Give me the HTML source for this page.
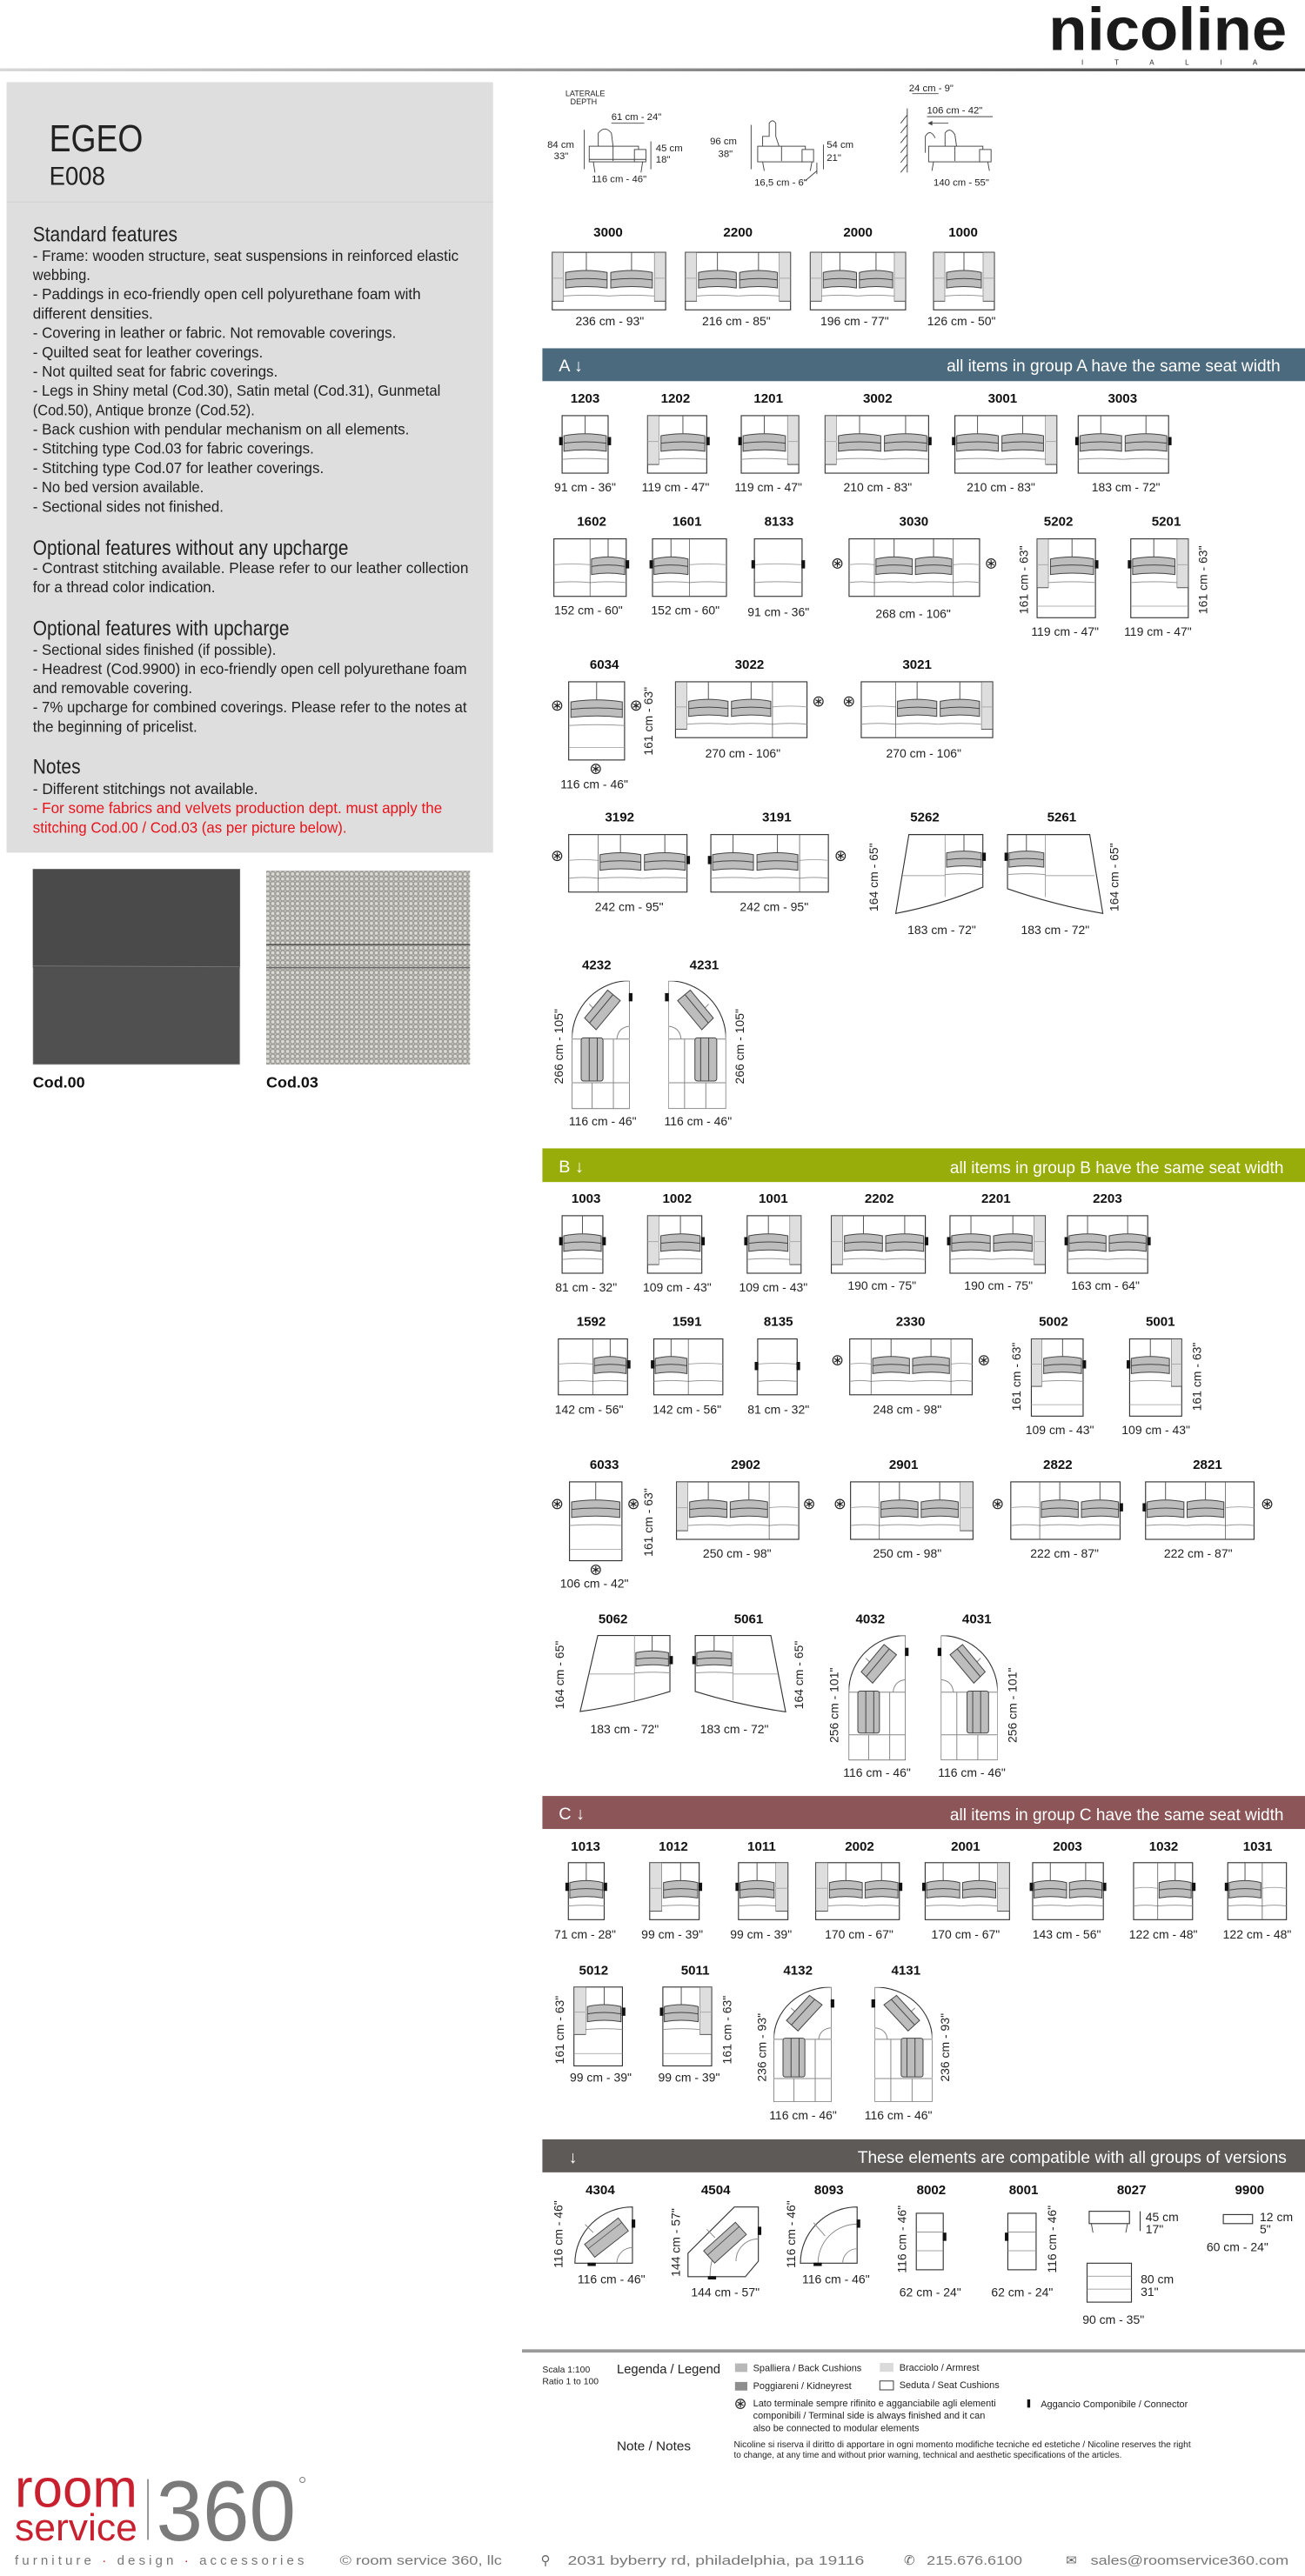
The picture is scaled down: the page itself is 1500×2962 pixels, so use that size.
<!DOCTYPE html>
<html><head><meta charset="utf-8">
<style>
html,body{margin:0;padding:0;background:#fff;}
svg{display:block;}
.lb{font-family:"Liberation Sans",sans-serif;font-weight:bold;font-size:8px;fill:#111;text-anchor:middle;}
.dm{font-family:"Liberation Sans",sans-serif;font-size:7.4px;fill:#222;text-anchor:middle;}
.nr{font-family:"Liberation Sans Narrow","Liberation Sans",sans-serif;fill:#222;}
.o{fill:#fff;stroke:#333;stroke-width:0.6;}
.k{fill:#111;}
.bt{font-family:"Liberation Sans",sans-serif;font-size:10.5px;fill:#fff;}
</style></head><body>
<svg width="1500" height="2962" viewBox="0 0 794 1568" preserveAspectRatio="none" xmlns="http://www.w3.org/2000/svg">
<defs>
<linearGradient id="hg" x1="0" x2="1" y1="0" y2="0"><stop offset="0" stop-color="#d8d8d8"/><stop offset="1" stop-color="#444"/></linearGradient>
<symbol id="seat" viewBox="0 0 100 100" preserveAspectRatio="none">
<line x1="50" y1="0" x2="50" y2="31" stroke="#555" stroke-width="1" vector-effect="non-scaling-stroke"/>
<path d="M4,35 Q50,28 96,35 V62 Q50,57 4,62 Z" fill="#bdbdbd" stroke="#444" stroke-width="1" vector-effect="non-scaling-stroke"/>
<path d="M4,48 Q50,43 96,48" fill="none" stroke="#444" stroke-width="1" vector-effect="non-scaling-stroke"/>
<path d="M0,76 Q50,73 100,76" fill="none" stroke="#999" stroke-width="1" vector-effect="non-scaling-stroke"/>
</symbol>
<symbol id="emp" viewBox="0 0 100 100" preserveAspectRatio="none">
<path d="M0,45 Q50,42 100,45" fill="none" stroke="#aaa" stroke-width="1" vector-effect="non-scaling-stroke"/>
<path d="M0,76 Q50,73 100,76" fill="none" stroke="#999" stroke-width="1" vector-effect="non-scaling-stroke"/>
</symbol>
<symbol id="arm" viewBox="0 0 100 100" preserveAspectRatio="none">
<rect x="0" y="0" width="100" height="85" fill="#dedede" stroke="#555" stroke-width="1" vector-effect="non-scaling-stroke"/>
<line x1="0" y1="45" x2="100" y2="45" stroke="#aaa" stroke-width="1" vector-effect="non-scaling-stroke"/>
</symbol>
<symbol id="cor" viewBox="0 0 100 220" preserveAspectRatio="none">
<path d="M0,220 V100 A100,100 0 0 1 100,0 V220 Z" fill="#fff" stroke="#333" stroke-width="1.1" vector-effect="non-scaling-stroke"/>
<path d="M0,100 H100 M0,175 H100 M35,175 V220 M72,100 V220 M78,100 Q80,80 100,78 M30,40 L48,58" fill="none" stroke="#888" stroke-width="1" vector-effect="non-scaling-stroke"/>
<polygon points="22,64 62,16 84,34 42,84" fill="#bdbdbd" stroke="#444" stroke-width="1" vector-effect="non-scaling-stroke"/>
<line x1="31" y1="72" x2="71" y2="24" stroke="#444" stroke-width="1" vector-effect="non-scaling-stroke"/>
<rect x="16" y="98" width="38" height="74" rx="4" fill="#bdbdbd" stroke="#444" stroke-width="1" vector-effect="non-scaling-stroke"/>
<line x1="30" y1="98" x2="30" y2="172" stroke="#444" stroke-width="1" vector-effect="non-scaling-stroke"/>
<line x1="44" y1="98" x2="44" y2="172" stroke="#444" stroke-width="1" vector-effect="non-scaling-stroke"/>
</symbol>
<symbol id="corR" viewBox="0 0 100 220" preserveAspectRatio="none"><g transform="translate(100,0) scale(-1,1)"><use href="#cor" x="0" y="0" width="100" height="220"/></g></symbol>
<symbol id="ast" viewBox="-5 -5 10 10"><circle r="4" fill="#fff" stroke="#222" stroke-width="0.9"/><path d="M0,-3V3M-2.6,-1.5L2.6,1.5M-2.6,1.5L2.6,-1.5" stroke="#222" stroke-width="0.9"/></symbol>
<pattern id="weave" width="3" height="3" patternUnits="userSpaceOnUse"><rect width="3" height="3" fill="#9c9a95"/><circle cx="1" cy="1" r="1" fill="#dcdad4"/><circle cx="2.5" cy="2.5" r="0.6" fill="#c4c2bc"/></pattern>
</defs>

<!-- HEADER -->
<text x="638" y="30.4" font-family="Liberation Sans,sans-serif" font-weight="bold" font-size="37" fill="#1a1a1a" textLength="145" lengthAdjust="spacingAndGlyphs">nicoline</text>
<text x="658" y="39.5" font-family="Liberation Sans,sans-serif" font-size="4.2" fill="#222" textLength="107" lengthAdjust="spacing">I T A L I A</text>
<rect x="0" y="41.6" width="794" height="1.8" fill="url(#hg)"/>

<!-- LEFT PANEL -->
<rect x="4" y="50" width="296" height="469" fill="#dedede"/>
<line x1="4" y1="123" x2="300" y2="123" stroke="#d2d2d2" stroke-width="0.6"/>
<text class="nr" x="30" y="92" font-size="23" textLength="57" lengthAdjust="spacingAndGlyphs">EGEO</text>
<text class="nr" x="30" y="112.5" font-size="15.5" textLength="34" lengthAdjust="spacingAndGlyphs">E008</text>
<g class="nr" font-size="9.2">
<text x="20" y="147" font-size="12.5" textLength="88" lengthAdjust="spacingAndGlyphs">Standard features</text>
<text x="20" y="158.7" textLength="259" lengthAdjust="spacingAndGlyphs">- Frame: wooden structure, seat suspensions in reinforced elastic</text>
<text x="20" y="170.5" textLength="35" lengthAdjust="spacingAndGlyphs">webbing.</text>
<text x="20" y="182.2" textLength="236" lengthAdjust="spacingAndGlyphs">- Paddings in eco-friendly open cell polyurethane foam with</text>
<text x="20" y="194" textLength="73" lengthAdjust="spacingAndGlyphs">different densities.</text>
<text x="20" y="205.7" textLength="221" lengthAdjust="spacingAndGlyphs">- Covering in leather or fabric. Not removable coverings.</text>
<text x="20" y="217.5" textLength="140" lengthAdjust="spacingAndGlyphs">- Quilted seat for leather coverings.</text>
<text x="20" y="229.2" textLength="149" lengthAdjust="spacingAndGlyphs">- Not quilted seat for fabric coverings.</text>
<text x="20" y="241" textLength="248" lengthAdjust="spacingAndGlyphs">- Legs in Shiny metal (Cod.30), Satin metal (Cod.31), Gunmetal</text>
<text x="20" y="252.7" textLength="135" lengthAdjust="spacingAndGlyphs">(Cod.50), Antique bronze (Cod.52).</text>
<text x="20" y="264.5" textLength="229" lengthAdjust="spacingAndGlyphs">- Back cushion with pendular mechanism on all elements.</text>
<text x="20" y="276.2" textLength="171" lengthAdjust="spacingAndGlyphs">- Stitching type Cod.03 for fabric coverings.</text>
<text x="20" y="288" textLength="177" lengthAdjust="spacingAndGlyphs">- Stitching type Cod.07 for leather coverings.</text>
<text x="20" y="299.7" textLength="104" lengthAdjust="spacingAndGlyphs">- No bed version available.</text>
<text x="20" y="311.5" textLength="116" lengthAdjust="spacingAndGlyphs">- Sectional sides not finished.</text>
<text x="20" y="337.7" font-size="12.5" textLength="192" lengthAdjust="spacingAndGlyphs">Optional features without any upcharge</text>
<text x="20" y="348.8" textLength="265" lengthAdjust="spacingAndGlyphs">- Contrast stitching available. Please refer to our leather collection</text>
<text x="20" y="360.6" textLength="111" lengthAdjust="spacingAndGlyphs">for a thread color indication.</text>
<text x="20" y="386.7" font-size="12.5" textLength="156" lengthAdjust="spacingAndGlyphs">Optional features with upcharge</text>
<text x="20" y="398.5" textLength="148" lengthAdjust="spacingAndGlyphs">- Sectional sides finished (if possible).</text>
<text x="20" y="410.3" textLength="264" lengthAdjust="spacingAndGlyphs">- Headrest (Cod.9900) in eco-friendly open cell polyurethane foam</text>
<text x="20" y="422" textLength="97" lengthAdjust="spacingAndGlyphs">and removable covering.</text>
<text x="20" y="433.6" textLength="264" lengthAdjust="spacingAndGlyphs">- 7% upcharge for combined coverings. Please refer to the notes at</text>
<text x="20" y="445.4" textLength="100" lengthAdjust="spacingAndGlyphs">the beginning of pricelist.</text>
<text x="20" y="471" font-size="12.5" textLength="29" lengthAdjust="spacingAndGlyphs">Notes</text>
<text x="20" y="483.3" textLength="137" lengthAdjust="spacingAndGlyphs">- Different stitchings not available.</text>
<text x="20" y="495" fill="#e8141c" textLength="249" lengthAdjust="spacingAndGlyphs">- For some fabrics and velvets production dept. must apply the</text>
<text x="20" y="506.9" fill="#e8141c" textLength="191" lengthAdjust="spacingAndGlyphs">stitching Cod.00 / Cod.03 (as per picture below).</text>
</g>
<!-- swatches -->
<rect x="20" y="529" width="126" height="119" fill="#505050" stroke="#ccc" stroke-width="0.4"/>
<rect x="20" y="529" width="126" height="60" fill="#4a4a4a"/>
<line x1="20" y1="588" x2="146" y2="588.5" stroke="#777" stroke-width="0.5"/>
<rect x="162" y="530" width="124" height="118" fill="url(#weave)"/>
<line x1="162" y1="575" x2="286" y2="575" stroke="#555" stroke-width="0.8"/>
<line x1="162" y1="589" x2="286" y2="589" stroke="#666" stroke-width="0.8"/>
<text x="20" y="662" font-family="Liberation Sans,sans-serif" font-weight="bold" font-size="9.5" fill="#111">Cod.00</text>
<text x="162" y="662" font-family="Liberation Sans,sans-serif" font-weight="bold" font-size="9.5" fill="#111">Cod.03</text>

<!-- TOP DIMENSION ICONS -->
<g font-family="Liberation Sans,sans-serif" font-size="6" fill="#222">
<text x="344" y="58.5" font-size="4.8">LATERALE</text><text x="347" y="63.5" font-size="4.8">DEPTH</text>
<text x="372" y="73">61 cm - 24"</text>
<text x="333" y="90">84 cm</text><text x="337" y="97">33"</text>
<text x="399" y="92">45 cm</text><text x="399" y="99">18"</text>
<text x="360" y="111">116 cm - 46"</text>
<text x="432" y="88">96 cm</text><text x="437" y="95.5">38"</text>
<text x="503" y="90">54 cm</text><text x="503" y="98">21"</text>
<text x="459" y="113">16,5 cm - 6"</text>
<text x="553" y="55.5">24 cm - 9"</text>
<text x="564" y="69">106 cm - 42"</text>
<text x="568" y="113">140 cm - 55"</text>
</g>
<g fill="none" stroke="#444" stroke-width="0.5">
<line x1="372" y1="75" x2="392" y2="75"/><line x1="555" y1="57" x2="571" y2="57"/><line x1="564" y1="71" x2="604" y2="71"/>
<line x1="355.5" y1="79" x2="355.5" y2="103"/><line x1="396" y1="86" x2="396" y2="103"/>
<path d="M364,89 V81 Q368,76 372,81 L373,89"/><rect x="358.5" y="89" width="30" height="9.5" fill="#fff"/><line x1="373" y1="89" x2="373" y2="98"/><rect x="386" y="91" width="7" height="7.5" fill="#fff"/>
<path d="M361,98.5 L362,105 M391,98.5 L390,105 M358.5,97 H393"/>
<line x1="457" y1="76" x2="457" y2="103"/><line x1="501" y1="88" x2="501" y2="103"/>
<path d="M464,89 V83 H468 V75 Q470,72 472,75 V83 L474,89"/><rect x="461" y="89" width="29" height="9.5" fill="#fff"/><line x1="475.5" y1="89" x2="475.5" y2="98"/><rect x="488" y="91" width="7" height="7.5" fill="#fff"/>
<path d="M464,98.5 L465,104 M494,98.5 L493,104 M497,99 V106 M490,110 L497,104"/>
<path d="M552,66 V105 M552,70 l-4,5 M552,76 l-4,5 M552,82 l-4,5 M552,88 l-4,5 M552,94 l-4,5 M552,100 l-4,5"/>
<line x1="577" y1="75" x2="565" y2="75"/><path d="M565,75 l2,-1 v2 z" fill="#444"/>
<path d="M563,93 V83 Q566,78 569,84 M575,89 V81 Q578,77 581,82 L582,89"/><rect x="565" y="89" width="33" height="9.5" fill="#fff"/><line x1="581" y1="89" x2="581" y2="98"/><rect x="596" y="91" width="7" height="7.5" fill="#fff"/>
<path d="M568,98.5 L567,104 M601,98.5 L602,104"/>
</g>

<!-- BASE ROW -->
<g class="lb"><text x="370" y="144">3000</text><text x="449" y="144">2200</text><text x="522" y="144">2000</text><text x="586" y="144">1000</text></g>
<rect class="o" x="336" y="153.6" width="69" height="35"/><use href="#arm" x="336" y="153.6" width="7" height="35"/><use href="#seat" x="343" y="153.6" width="27.5" height="35"/><use href="#seat" x="370.5" y="153.6" width="27.5" height="35"/><use href="#arm" x="398" y="153.6" width="7" height="35"/>
<rect class="o" x="417" y="153.6" width="64" height="35"/><use href="#arm" x="417" y="153.6" width="7" height="35"/><use href="#seat" x="424" y="153.6" width="25" height="35"/><use href="#seat" x="449" y="153.6" width="25" height="35"/><use href="#arm" x="474" y="153.6" width="7" height="35"/>
<rect class="o" x="493" y="153.6" width="58" height="35"/><use href="#arm" x="493" y="153.6" width="7" height="35"/><use href="#seat" x="500" y="153.6" width="22" height="35"/><use href="#seat" x="522" y="153.6" width="22" height="35"/><use href="#arm" x="544" y="153.6" width="7" height="35"/>
<rect class="o" x="568" y="153.6" width="37" height="35"/><use href="#arm" x="568" y="153.6" width="7" height="35"/><use href="#seat" x="575" y="153.6" width="23" height="35"/><use href="#arm" x="598" y="153.6" width="7" height="35"/>
<g class="dm"><text x="371" y="198">236 cm - 93"</text><text x="448" y="198">216 cm - 85"</text><text x="520" y="198">196 cm - 77"</text><text x="585" y="198">126 cm - 50"</text></g>

<!-- GROUP A -->
<rect x="330" y="212" width="464" height="20" fill="#4b6a7e"/>
<text class="bt" x="340" y="226">A ↓</text>
<text class="bt" x="576" y="226" textLength="203" lengthAdjust="spacingAndGlyphs">all items in group A have the same seat width</text>

<g class="lb"><text x="356" y="245">1203</text><text x="411" y="245">1202</text><text x="467.5" y="245">1201</text><text x="534" y="245">3002</text><text x="610" y="245">3001</text><text x="683" y="245">3003</text></g>
<rect class="o" x="342" y="253" width="28" height="35"/><use href="#seat" x="342" y="253" width="28" height="35"/><rect class="k" x="340.2" y="266" width="2.2" height="5"/><rect class="k" x="369.6" y="266" width="2.2" height="5"/>
<rect class="o" x="394" y="253" width="36" height="35"/><use href="#arm" x="394" y="253" width="7" height="35"/><use href="#seat" x="401" y="253" width="29" height="35"/><rect class="k" x="429.6" y="266" width="2.2" height="5"/>
<rect class="o" x="451" y="253" width="35" height="35"/><use href="#seat" x="451" y="253" width="28" height="35"/><use href="#arm" x="479" y="253" width="7" height="35"/><rect class="k" x="449.2" y="266" width="2.2" height="5"/>
<rect class="o" x="502" y="253" width="63" height="35"/><use href="#arm" x="502" y="253" width="7" height="35"/><use href="#seat" x="509" y="253" width="28" height="35"/><use href="#seat" x="537" y="253" width="28" height="35"/><rect class="k" x="564.6" y="266" width="2.2" height="5"/>
<rect class="o" x="581" y="253" width="62" height="35"/><use href="#seat" x="581" y="253" width="27.5" height="35"/><use href="#seat" x="608.5" y="253" width="27.5" height="35"/><use href="#arm" x="636" y="253" width="7" height="35"/><rect class="k" x="579.2" y="266" width="2.2" height="5"/>
<rect class="o" x="656" y="253" width="55" height="35"/><use href="#seat" x="656" y="253" width="27.5" height="35"/><use href="#seat" x="683.5" y="253" width="27.5" height="35"/><rect class="k" x="654.2" y="266" width="2.2" height="5"/><rect class="k" x="710.6" y="266" width="2.2" height="5"/>
<g class="dm"><text x="356" y="299">91 cm - 36"</text><text x="411" y="299">119 cm - 47"</text><text x="467.5" y="299">119 cm - 47"</text><text x="534" y="299">210 cm - 83"</text><text x="609" y="299">210 cm - 83"</text><text x="685" y="299">183 cm - 72"</text></g>

<g class="lb"><text x="360" y="320">1602</text><text x="418" y="320">1601</text><text x="474" y="320">8133</text><text x="556" y="320">3030</text><text x="644" y="320">5202</text><text x="709.6" y="320">5201</text></g>
<rect class="o" x="337" y="328" width="44" height="35"/><use href="#emp" x="337" y="328" width="22" height="35"/><use href="#seat" x="359" y="328" width="22" height="35"/><line x1="359" y1="328" x2="359" y2="363" stroke="#555" stroke-width="0.4"/><rect class="k" x="380.6" y="341" width="2.2" height="5"/>
<rect class="o" x="397" y="328" width="45" height="35"/><use href="#seat" x="397" y="328" width="22.5" height="35"/><use href="#emp" x="419.5" y="328" width="22.5" height="35"/><line x1="419.5" y1="328" x2="419.5" y2="363" stroke="#555" stroke-width="0.4"/><rect class="k" x="395.2" y="341" width="2.2" height="5"/>
<rect class="o" x="459" y="328" width="29" height="35"/><use href="#emp" x="459" y="328" width="29" height="35"/><rect class="k" x="457.2" y="341" width="2.2" height="5"/><rect class="k" x="487.6" y="341" width="2.2" height="5"/>
<rect class="o" x="516.6" y="328" width="79.4" height="35"/><use href="#emp" x="516.6" y="328" width="15.4" height="35"/><use href="#seat" x="532" y="328" width="24" height="35"/><use href="#seat" x="556" y="328" width="24" height="35"/><use href="#emp" x="580" y="328" width="16" height="35"/><line x1="532" y1="328" x2="532" y2="363" stroke="#555" stroke-width="0.4"/><line x1="580" y1="328" x2="580" y2="363" stroke="#555" stroke-width="0.4"/>
<use href="#ast" x="506" y="339.5" width="7" height="7"/><use href="#ast" x="599.5" y="339.5" width="7" height="7"/>
<rect class="o" x="631" y="328" width="35.5" height="48"/><use href="#arm" x="631" y="328" width="7" height="35"/><use href="#seat" x="638" y="328" width="28.5" height="35"/><line x1="631" y1="369" x2="666.5" y2="369" stroke="#999" stroke-width="0.4"/><rect class="k" x="666.1" y="341" width="2.2" height="5"/>
<rect class="o" x="688" y="328" width="35" height="48"/><use href="#seat" x="688" y="328" width="28" height="35"/><use href="#arm" x="716" y="328" width="7" height="35"/><line x1="688" y1="369" x2="723" y2="369" stroke="#999" stroke-width="0.4"/><rect class="k" x="686.2" y="341" width="2.2" height="5"/>
<g class="dm"><text x="358" y="374">152 cm - 60"</text><text x="417" y="374">152 cm - 60"</text><text x="473.6" y="375">91 cm - 36"</text><text x="555.6" y="376">268 cm - 106"</text><text x="648" y="387">119 cm - 47"</text><text x="704.5" y="387">119 cm - 47"</text>
<text transform="translate(625.5,353) rotate(-90)">161 cm - 63"</text><text transform="translate(734.5,353) rotate(-90)">161 cm - 63"</text></g>

<g class="lb"><text x="367.7" y="407">6034</text><text x="456" y="407">3022</text><text x="558" y="407">3021</text></g>
<rect class="o" x="346" y="415" width="34" height="47.6"/><use href="#seat" x="346" y="415" width="34" height="35"/><line x1="346" y1="455" x2="380" y2="455" stroke="#999" stroke-width="0.4"/>
<use href="#ast" x="335.5" y="426" width="7" height="7"/><use href="#ast" x="383.5" y="426" width="7" height="7"/><use href="#ast" x="359" y="464.5" width="7" height="7"/>
<rect class="o" x="411" y="415" width="80" height="34"/><use href="#arm" x="411" y="415" width="7" height="34"/><use href="#seat" x="418" y="415" width="26" height="34"/><use href="#seat" x="444" y="415" width="26" height="34"/><use href="#emp" x="470" y="415" width="21" height="34"/><line x1="470" y1="415" x2="470" y2="449" stroke="#555" stroke-width="0.4"/><use href="#ast" x="494.5" y="423.5" width="7" height="7"/>
<rect class="o" x="524" y="415" width="80" height="34"/><use href="#emp" x="524" y="415" width="21" height="34"/><use href="#seat" x="545" y="415" width="26" height="34"/><use href="#seat" x="571" y="415" width="26" height="34"/><use href="#arm" x="597" y="415" width="7" height="34"/><line x1="545" y1="415" x2="545" y2="449" stroke="#555" stroke-width="0.4"/><use href="#ast" x="513" y="423.5" width="7" height="7"/>
<g class="dm"><text x="361.6" y="480">116 cm - 46"</text><text x="452" y="461">270 cm - 106"</text><text x="562" y="461">270 cm - 106"</text><text transform="translate(397,439) rotate(-90)">161 cm - 63"</text></g>

<g class="lb"><text x="377" y="500">3192</text><text x="472.6" y="500">3191</text><text x="562.7" y="500">5262</text><text x="646" y="500">5261</text></g>
<rect class="o" x="346" y="508" width="72" height="35"/><use href="#emp" x="346" y="508" width="18" height="35"/><use href="#seat" x="364" y="508" width="27" height="35"/><use href="#seat" x="391" y="508" width="27" height="35"/><line x1="364" y1="508" x2="364" y2="543" stroke="#555" stroke-width="0.4"/><rect class="k" x="417.6" y="521" width="2.2" height="5"/><use href="#ast" x="335.5" y="517.5" width="7" height="7"/>
<rect class="o" x="432.5" y="508" width="71.5" height="35"/><use href="#seat" x="432.5" y="508" width="27" height="35"/><use href="#seat" x="459.5" y="508" width="27" height="35"/><use href="#emp" x="486.5" y="508" width="17.5" height="35"/><line x1="486.5" y1="508" x2="486.5" y2="543" stroke="#555" stroke-width="0.4"/><rect class="k" x="430.7" y="521" width="2.2" height="5"/><use href="#ast" x="508" y="517.5" width="7" height="7"/>
<path class="o" d="M553,508 H598 V540 Q572,551 545,556 Z"/><use href="#seat" x="575" y="508" width="23" height="32"/><path d="M575,508 V546 M549,533 H575" stroke="#888" stroke-width="0.4" fill="none"/><rect class="k" x="597.6" y="519" width="2.2" height="5"/>
<path class="o" d="M613,508 H663 L671,556 Q642,551 613,541 Z"/><use href="#seat" x="613" y="508" width="23" height="32"/><path d="M636,508 V546 M636,533 H666" stroke="#888" stroke-width="0.4" fill="none"/><rect class="k" x="611.2" y="519" width="2.2" height="5"/>
<g class="dm"><text x="382.8" y="554.5">242 cm - 95"</text><text x="471" y="554.5">242 cm - 95"</text><text x="573" y="568.5">183 cm - 72"</text><text x="642" y="568.5">183 cm - 72"</text>
<text transform="translate(534,534) rotate(-90)">164 cm - 65"</text><text transform="translate(680.5,534) rotate(-90)">164 cm - 65"</text></g>

<g class="lb"><text x="363" y="590">4232</text><text x="428.5" y="590">4231</text></g>
<use href="#cor" x="348" y="597" width="35" height="78"/><rect class="k" x="382.6" y="604.5" width="2.2" height="5"/>
<use href="#corR" x="406.7" y="597" width="35" height="78"/><rect class="k" x="404.6" y="604.5" width="2.2" height="5"/>
<g class="dm"><text x="366.7" y="685">116 cm - 46"</text><text x="424.7" y="685">116 cm - 46"</text><text transform="translate(342.5,637) rotate(-90)">266 cm - 105"</text><text transform="translate(452.7,637) rotate(-90)">266 cm - 105"</text></g>

<!-- GROUP B -->
<rect x="330" y="699" width="464" height="20.5" fill="#98ac0a"/>
<text class="bt" x="340" y="713.5">B ↓</text>
<text class="bt" x="578" y="714" textLength="203" lengthAdjust="spacingAndGlyphs">all items in group B have the same seat width</text>

<g class="lb"><text x="356.6" y="732">1003</text><text x="412" y="732">1002</text><text x="470.5" y="732">1001</text><text x="535" y="732">2202</text><text x="606" y="732">2201</text><text x="673.8" y="732">2203</text></g>
<rect class="o" x="342" y="740" width="24.8" height="35"/><use href="#seat" x="342" y="740" width="24.8" height="35"/><rect class="k" x="340.2" y="753" width="2.2" height="5"/><rect class="k" x="366.4" y="753" width="2.2" height="5"/>
<rect class="o" x="394" y="740" width="33" height="35"/><use href="#arm" x="394" y="740" width="7" height="35"/><use href="#seat" x="401" y="740" width="26" height="35"/><rect class="k" x="426.6" y="753" width="2.2" height="5"/>
<rect class="o" x="454.6" y="740" width="32.8" height="35"/><use href="#seat" x="454.6" y="740" width="25.8" height="35"/><use href="#arm" x="480.4" y="740" width="7" height="35"/><rect class="k" x="452.8" y="753" width="2.2" height="5"/>
<rect class="o" x="505.8" y="740" width="57.2" height="35"/><use href="#arm" x="505.8" y="740" width="7" height="35"/><use href="#seat" x="512.8" y="740" width="25.1" height="35"/><use href="#seat" x="537.9" y="740" width="25.1" height="35"/><rect class="k" x="562.6" y="753" width="2.2" height="5"/>
<rect class="o" x="578" y="740" width="58" height="35"/><use href="#seat" x="578" y="740" width="25.5" height="35"/><use href="#seat" x="603.5" y="740" width="25.5" height="35"/><use href="#arm" x="629" y="740" width="7" height="35"/><rect class="k" x="576.2" y="753" width="2.2" height="5"/>
<rect class="o" x="649.5" y="740" width="48.8" height="35"/><use href="#seat" x="649.5" y="740" width="24.4" height="35"/><use href="#seat" x="673.9" y="740" width="24.4" height="35"/><rect class="k" x="647.7" y="753" width="2.2" height="5"/><rect class="k" x="697.9" y="753" width="2.2" height="5"/>
<g class="dm"><text x="356.6" y="786">81 cm - 32"</text><text x="412" y="786">109 cm - 43"</text><text x="470.5" y="786">109 cm - 43"</text><text x="536.6" y="785">190 cm - 75"</text><text x="607.5" y="785">190 cm - 75"</text><text x="672.6" y="785">163 cm - 64"</text></g>

<g class="lb"><text x="359.7" y="807">1592</text><text x="418" y="807">1591</text><text x="473.6" y="807">8135</text><text x="554" y="807">2330</text><text x="641" y="807">5002</text><text x="706" y="807">5001</text></g>
<rect class="o" x="339.7" y="815" width="42.1" height="34"/><use href="#emp" x="339.7" y="815" width="21" height="34"/><use href="#seat" x="360.7" y="815" width="21.1" height="34"/><line x1="360.7" y1="815" x2="360.7" y2="849" stroke="#555" stroke-width="0.4"/><rect class="k" x="381.4" y="828" width="2.2" height="5"/>
<rect class="o" x="397.8" y="815" width="42" height="34"/><use href="#seat" x="397.8" y="815" width="21" height="34"/><use href="#emp" x="418.8" y="815" width="21" height="34"/><line x1="418.8" y1="815" x2="418.8" y2="849" stroke="#555" stroke-width="0.4"/><rect class="k" x="396" y="828" width="2.2" height="5"/>
<rect class="o" x="461" y="815" width="24" height="34"/><use href="#emp" x="461" y="815" width="24" height="34"/><rect class="k" x="459.2" y="829" width="2.2" height="5"/><rect class="k" x="484.6" y="829" width="2.2" height="5"/>
<rect class="o" x="517" y="815" width="74.5" height="34"/><use href="#emp" x="517" y="815" width="13" height="34"/><use href="#seat" x="530" y="815" width="24.3" height="34"/><use href="#seat" x="554.3" y="815" width="24.3" height="34"/><use href="#emp" x="578.6" y="815" width="12.9" height="34"/><line x1="530" y1="815" x2="530" y2="849" stroke="#555" stroke-width="0.4"/><line x1="578.6" y1="815" x2="578.6" y2="849" stroke="#555" stroke-width="0.4"/>
<use href="#ast" x="506" y="824.5" width="7" height="7"/><use href="#ast" x="595.1" y="824.5" width="7" height="7"/>
<rect class="o" x="627.5" y="815" width="31.5" height="47"/><use href="#arm" x="627.5" y="815" width="6.5" height="34"/><use href="#seat" x="634" y="815" width="25" height="34"/><line x1="627.5" y1="855" x2="659" y2="855" stroke="#999" stroke-width="0.4"/><rect class="k" x="658.6" y="828" width="2.2" height="5"/>
<rect class="o" x="687.3" y="815" width="31.7" height="47"/><use href="#seat" x="687.3" y="815" width="25.2" height="34"/><use href="#arm" x="712.5" y="815" width="6.5" height="34"/><line x1="687.3" y1="855" x2="719" y2="855" stroke="#999" stroke-width="0.4"/><rect class="k" x="685.5" y="828" width="2.2" height="5"/>
<g class="dm"><text x="358.4" y="860.5">142 cm - 56"</text><text x="418" y="860.5">142 cm - 56"</text><text x="473.6" y="860.5">81 cm - 32"</text><text x="552" y="860.5">248 cm - 98"</text><text x="644.8" y="873">109 cm - 43"</text><text x="703.3" y="873">109 cm - 43"</text>
<text transform="translate(621,838) rotate(-90)">161 cm - 63"</text><text transform="translate(730.8,838) rotate(-90)">161 cm - 63"</text></g>

<g class="lb"><text x="367.7" y="894">6033</text><text x="453.7" y="894">2902</text><text x="549.8" y="894">2901</text><text x="643.6" y="894">2822</text><text x="734.7" y="894">2821</text></g>
<rect class="o" x="346.5" y="902" width="31.9" height="48"/><use href="#seat" x="346.5" y="902" width="31.9" height="35"/><line x1="346.5" y1="943" x2="378.4" y2="943" stroke="#999" stroke-width="0.4"/>
<use href="#ast" x="335.5" y="912" width="7" height="7"/><use href="#ast" x="381.9" y="912" width="7" height="7"/><use href="#ast" x="359" y="952" width="7" height="7"/>
<rect class="o" x="411.6" y="902" width="74.4" height="35"/><use href="#arm" x="411.6" y="902" width="7" height="35"/><use href="#seat" x="418.6" y="902" width="24.7" height="35"/><use href="#seat" x="443.3" y="902" width="24.7" height="35"/><use href="#emp" x="468" y="902" width="18" height="35"/><line x1="468" y1="902" x2="468" y2="937" stroke="#555" stroke-width="0.4"/><use href="#ast" x="488.8" y="912" width="7" height="7"/>
<rect class="o" x="517.5" y="902" width="74.5" height="35"/><use href="#emp" x="517.5" y="902" width="17.5" height="35"/><use href="#seat" x="535" y="902" width="24.5" height="35"/><use href="#seat" x="559.5" y="902" width="24.5" height="35"/><use href="#arm" x="584" y="902" width="8" height="35"/><line x1="535" y1="902" x2="535" y2="937" stroke="#555" stroke-width="0.4"/><use href="#ast" x="507.5" y="912" width="7" height="7"/>
<rect class="o" x="615" y="902" width="66.5" height="35"/><use href="#emp" x="615" y="902" width="17.6" height="35"/><use href="#seat" x="632.6" y="902" width="24.4" height="35"/><use href="#seat" x="657" y="902" width="24.5" height="35"/><line x1="632.6" y1="902" x2="632.6" y2="937" stroke="#555" stroke-width="0.4"/><rect class="k" x="681.1" y="915" width="2.2" height="5"/><use href="#ast" x="603.5" y="912" width="7" height="7"/>
<rect class="o" x="697" y="902" width="66" height="35"/><use href="#seat" x="697" y="902" width="24.3" height="35"/><use href="#seat" x="721.3" y="902" width="24.3" height="35"/><use href="#emp" x="745.6" y="902" width="17.4" height="35"/><line x1="745.6" y1="902" x2="745.6" y2="937" stroke="#555" stroke-width="0.4"/><rect class="k" x="695.2" y="915" width="2.2" height="5"/><use href="#ast" x="767.5" y="912" width="7" height="7"/>
<g class="dm"><text x="361.6" y="966.5">106 cm - 42"</text><text x="448.5" y="948">250 cm - 98"</text><text x="552" y="948">250 cm - 98"</text><text x="647.7" y="948">222 cm - 87"</text><text x="729" y="948">222 cm - 87"</text><text transform="translate(397,926.7) rotate(-90)">161 cm - 63"</text></g>

<g class="lb"><text x="373" y="988">5062</text><text x="455.5" y="988">5061</text><text x="529.5" y="988">4032</text><text x="594.3" y="988">4031</text></g>
<path class="o" d="M363.7,995.5 H407.6 V1029.6 Q380,1038 353,1041.8 Z"/><use href="#seat" x="386" y="995.5" width="21.6" height="30"/><path d="M386,995.5 V1035 M358,1019 H386" stroke="#888" stroke-width="0.4" fill="none"/><rect class="k" x="407.2" y="1008" width="2.2" height="5"/>
<path class="o" d="M423,995.5 H469 L478,1042 Q450,1038 423,1029.6 Z"/><use href="#seat" x="423" y="995.5" width="23" height="30"/><path d="M446,995.5 V1035 M446,1019 H473" stroke="#888" stroke-width="0.4" fill="none"/><rect class="k" x="421.2" y="1008" width="2.2" height="5"/>
<use href="#cor" x="516.4" y="995.5" width="34.6" height="76"/><rect class="k" x="550.6" y="1003" width="2.2" height="5"/>
<use href="#corR" x="572.5" y="995.5" width="34.5" height="76"/><rect class="k" x="570.5" y="1003" width="2.2" height="5"/>
<g class="dm"><text x="380" y="1055">183 cm - 72"</text><text x="446.8" y="1055">183 cm - 72"</text><text x="533.6" y="1081.5">116 cm - 46"</text><text x="591.3" y="1081.5">116 cm - 46"</text>
<text transform="translate(343,1019.6) rotate(-90)">164 cm - 65"</text><text transform="translate(488.5,1019.6) rotate(-90)">164 cm - 65"</text><text transform="translate(510,1038) rotate(-90)">256 cm - 101"</text><text transform="translate(618.5,1038) rotate(-90)">256 cm - 101"</text></g>

<!-- GROUP C -->
<rect x="330" y="1093.2" width="464" height="20.1" fill="#8c5557"/>
<text class="bt" x="340" y="1107.5">C ↓</text>
<text class="bt" x="578" y="1108" textLength="203" lengthAdjust="spacingAndGlyphs">all items in group C have the same seat width</text>

<g class="lb"><text x="356.3" y="1126.5">1013</text><text x="409.7" y="1126.5">1012</text><text x="463.4" y="1126.5">1011</text><text x="523" y="1126.5">2002</text><text x="587.5" y="1126.5">2001</text><text x="649.5" y="1126.5">2003</text><text x="708" y="1126.5">1032</text><text x="765.2" y="1126.5">1031</text></g>
<rect class="o" x="345.8" y="1133.8" width="21.8" height="34.7"/><use href="#seat" x="345.8" y="1133.8" width="21.8" height="34.7"/><rect class="k" x="344" y="1146" width="2.2" height="5"/><rect class="k" x="367.2" y="1146" width="2.2" height="5"/>
<rect class="o" x="395.3" y="1133.8" width="30.1" height="34.7"/><use href="#arm" x="395.3" y="1133.8" width="7.5" height="34.7"/><use href="#seat" x="402.8" y="1133.8" width="22.6" height="34.7"/><rect class="k" x="425" y="1146" width="2.2" height="5"/>
<rect class="o" x="449.3" y="1133.8" width="30.1" height="34.7"/><use href="#seat" x="449.3" y="1133.8" width="22.6" height="34.7"/><use href="#arm" x="471.9" y="1133.8" width="7.5" height="34.7"/><rect class="k" x="447.5" y="1146" width="2.2" height="5"/>
<rect class="o" x="496.3" y="1133.8" width="50.9" height="34.7"/><use href="#arm" x="496.3" y="1133.8" width="7.5" height="34.7"/><use href="#seat" x="503.8" y="1133.8" width="21.7" height="34.7"/><use href="#seat" x="525.5" y="1133.8" width="21.7" height="34.7"/><rect class="k" x="546.8" y="1146" width="2.2" height="5"/>
<rect class="o" x="562.9" y="1133.8" width="51.3" height="34.7"/><use href="#seat" x="562.9" y="1133.8" width="21.9" height="34.7"/><use href="#seat" x="584.8" y="1133.8" width="21.9" height="34.7"/><use href="#arm" x="606.7" y="1133.8" width="7.5" height="34.7"/><rect class="k" x="561.1" y="1146" width="2.2" height="5"/>
<rect class="o" x="628.3" y="1133.8" width="43" height="34.7"/><use href="#seat" x="628.3" y="1133.8" width="21.5" height="34.7"/><use href="#seat" x="649.8" y="1133.8" width="21.5" height="34.7"/><rect class="k" x="626.5" y="1146" width="2.2" height="5"/><rect class="k" x="670.9" y="1146" width="2.2" height="5"/>
<rect class="o" x="689.7" y="1133.8" width="35.9" height="34.7"/><use href="#emp" x="689.7" y="1133.8" width="14.7" height="34.7"/><use href="#seat" x="704.4" y="1133.8" width="21.2" height="34.7"/><line x1="704.4" y1="1133.8" x2="704.4" y2="1168.5" stroke="#555" stroke-width="0.4"/><rect class="k" x="725.2" y="1146" width="2.2" height="5"/>
<rect class="o" x="747" y="1133.8" width="35.7" height="34.7"/><use href="#seat" x="747" y="1133.8" width="21" height="34.7"/><use href="#emp" x="768" y="1133.8" width="14.7" height="34.7"/><line x1="768" y1="1133.8" x2="768" y2="1168.5" stroke="#555" stroke-width="0.4"/><rect class="k" x="745.2" y="1146" width="2.2" height="5"/>
<g class="dm"><text x="356" y="1180">71 cm - 28"</text><text x="409" y="1180">99 cm - 39"</text><text x="463" y="1180">99 cm - 39"</text><text x="522.7" y="1180">170 cm - 67"</text><text x="587.5" y="1180">170 cm - 67"</text><text x="649" y="1180">143 cm - 56"</text><text x="707.8" y="1180">122 cm - 48"</text><text x="764.9" y="1180">122 cm - 48"</text></g>

<g class="lb"><text x="361.2" y="1202">5012</text><text x="423" y="1202">5011</text><text x="485.5" y="1202">4132</text><text x="551.2" y="1202">4131</text></g>
<rect class="o" x="349.2" y="1209.5" width="29.5" height="48"/><use href="#arm" x="349.2" y="1209.5" width="7.3" height="34"/><use href="#seat" x="356.5" y="1209.5" width="22.2" height="34"/><line x1="349.2" y1="1250" x2="378.7" y2="1250" stroke="#999" stroke-width="0.4"/><rect class="k" x="378.3" y="1222" width="2.2" height="5"/>
<rect class="o" x="403.3" y="1209.5" width="29.7" height="48"/><use href="#seat" x="403.3" y="1209.5" width="22.4" height="34"/><use href="#arm" x="425.7" y="1209.5" width="7.3" height="34"/><line x1="403.3" y1="1250" x2="433" y2="1250" stroke="#999" stroke-width="0.4"/><rect class="k" x="401.5" y="1222" width="2.2" height="5"/>
<use href="#cor" x="470.8" y="1209.5" width="35" height="70"/><rect class="k" x="505.4" y="1217" width="2.2" height="5"/>
<use href="#corR" x="532.2" y="1209.5" width="35" height="70"/><rect class="k" x="530.2" y="1217" width="2.2" height="5"/>
<g class="dm"><text x="365.5" y="1267">99 cm - 39"</text><text x="419.2" y="1267">99 cm - 39"</text><text x="488.6" y="1290">116 cm - 46"</text><text x="546.6" y="1290">116 cm - 46"</text>
<text transform="translate(343,1235.6) rotate(-90)">161 cm - 63"</text><text transform="translate(445,1235.6) rotate(-90)">161 cm - 63"</text><text transform="translate(466,1246.3) rotate(-90)">236 cm - 93"</text><text transform="translate(577.5,1246.3) rotate(-90)">236 cm - 93"</text></g>

<!-- COMPATIBLE -->
<rect x="330" y="1302.2" width="464" height="20.1" fill="#5e5a58"/>
<text class="bt" x="346" y="1316.5">↓</text>
<text class="bt" x="521.8" y="1316.5" textLength="261" lengthAdjust="spacingAndGlyphs">These elements are compatible with all groups of versions</text>

<g class="lb"><text x="365.2" y="1335.7">4304</text><text x="435.5" y="1335.7">4504</text><text x="504.3" y="1335.7">8093</text><text x="566.6" y="1335.7">8002</text><text x="622.8" y="1335.7">8001</text><text x="688.5" y="1335.7">8027</text><text x="760.3" y="1335.7">9900</text></g>
<path class="o" d="M349.8,1377.6 A35,34.2 0 0 1 384.8,1343.4 V1377.6 Z"/>
<path d="M375.3,1377.6 A9.5,9.5 0 0 1 384.8,1368.1 M356,1354 L361,1359" fill="none" stroke="#888" stroke-width="0.5"/>
<g transform="rotate(-38 369 1362)"><rect x="356" y="1357" width="26" height="10" fill="#bdbdbd" stroke="#444" stroke-width="0.5"/><line x1="356" y1="1360.5" x2="382" y2="1360.5" stroke="#444" stroke-width="0.4"/></g>
<rect class="k" x="384.3" y="1351" width="2.2" height="5"/><rect class="k" x="357.5" y="1377.3" width="5" height="2"/>
<path class="o" d="M446.8,1343.4 H461.4 V1376.4 L453.5,1385.8 H418.6 V1371.5 Z"/>
<path d="M447.8,1376.4 A13.6,13.6 0 0 1 461.4,1362.8 M430,1357 L435,1362 M432,1385.8 Q432,1368 445,1360" fill="none" stroke="#888" stroke-width="0.5"/>
<g transform="rotate(-42 441.2 1364.9)"><rect x="428" y="1360" width="26" height="10" fill="#bdbdbd" stroke="#444" stroke-width="0.5"/><line x1="428" y1="1363.5" x2="454" y2="1363.5" stroke="#444" stroke-width="0.4"/></g>
<rect class="k" x="461" y="1355.4" width="2.2" height="5"/><rect class="k" x="430.7" y="1385.5" width="5" height="2"/>
<path class="o" d="M487,1377.6 A34.5,34.2 0 0 1 521.5,1343.4 V1377.6 Z"/>
<path d="M497.7,1377.6 A23.8,23.8 0 0 1 521.5,1353.8 M512.7,1377.6 A8.8,8.8 0 0 1 521.5,1368.8 M495,1353 L502,1361" fill="none" stroke="#888" stroke-width="0.5"/>
<rect class="k" x="521.2" y="1351" width="2.2" height="5"/><rect class="k" x="495" y="1377.3" width="5" height="2"/>
<rect class="o" x="557.5" y="1347.2" width="16.4" height="34.4"/><path d="M557.5,1358.6 H573.9 M557.5,1370 H573.9" stroke="#888" stroke-width="0.4"/><rect class="k" x="573.6" y="1359" width="2.2" height="5"/>
<rect class="o" x="613.2" y="1347.2" width="17.2" height="34.4"/><path d="M613.2,1358.6 H630.4 M613.2,1370 H630.4" stroke="#888" stroke-width="0.4"/><rect class="k" x="611.4" y="1359" width="2.2" height="5"/>
<rect class="o" x="662.7" y="1346" width="24.5" height="7.5"/><path d="M664,1353.5 L665,1359 M686,1353.5 L685,1359" stroke="#444" stroke-width="0.5"/><line x1="693.7" y1="1346" x2="693.7" y2="1358" stroke="#333" stroke-width="0.6"/>
<rect class="o" x="661.4" y="1377.6" width="27" height="23.7"/><path d="M661.4,1385.5 H688.4 M661.4,1393.4 H688.4" stroke="#888" stroke-width="0.4"/>
<rect class="o" x="744.3" y="1348" width="17.8" height="5.5"/>
<g font-family="Liberation Sans,sans-serif" font-size="7.4" fill="#222">
<text x="697" y="1352">45 cm</text><text x="697" y="1359.5">17"</text>
<text x="694" y="1390">80 cm</text><text x="694" y="1397.5">31"</text>
<text x="766.5" y="1352">12 cm</text><text x="766.5" y="1359.5">5"</text>
</g>
<g class="dm"><text x="372" y="1390">116 cm - 46"</text><text x="441.3" y="1397.8">144 cm - 57"</text><text x="508.6" y="1390">116 cm - 46"</text><text x="566" y="1397.8">62 cm - 24"</text><text x="621.9" y="1397.8">62 cm - 24"</text><text x="677.4" y="1414.5">90 cm - 35"</text><text x="752.9" y="1370.3">60 cm - 24"</text>
<text transform="translate(342.3,1360) rotate(-90)">116 cm - 46"</text><text transform="translate(413.8,1365) rotate(-90)">144 cm - 57"</text><text transform="translate(483.8,1360) rotate(-90)">116 cm - 46"</text><text transform="translate(551.4,1363) rotate(-90)">116 cm - 46"</text><text transform="translate(642.6,1363) rotate(-90)">116 cm - 46"</text></g>

<!-- LEGEND -->
<rect x="317.6" y="1430" width="476.4" height="2" fill="#9a9a9a"/>
<g font-family="Liberation Sans Narrow,Liberation Sans,sans-serif" fill="#222">
<text x="330" y="1444" font-size="5.5">Scala 1:100</text><text x="330" y="1451.3" font-size="5.5">Ratio 1 to 100</text>
<text x="375.3" y="1444.6" font-size="8" textLength="63" lengthAdjust="spacingAndGlyphs">Legenda / Legend</text>
<text x="375.3" y="1491.4" font-size="8" textLength="45" lengthAdjust="spacingAndGlyphs">Note / Notes</text>
<g font-size="5.8">
<text x="458.2" y="1443.4">Spalliera / Back Cushions</text>
<text x="458.2" y="1454.3">Poggiareni / Kidneyrest</text>
<text x="547.2" y="1443.2">Bracciolo / Armrest</text>
<text x="547.2" y="1453.7">Seduta / Seat Cushions</text>
<text x="458.2" y="1464.7">Lato terminale sempre rifinito e agganciabile agli elementi</text>
<text x="458.2" y="1472.2">componibili / Terminal side is always finished and it can</text>
<text x="458.2" y="1479.9">also be connected to modular elements</text>
<text x="633.2" y="1465.3">Aggancio Componibile / Connector</text>
</g>
<text x="446.5" y="1489.6" font-size="5.2" textLength="278" lengthAdjust="spacingAndGlyphs">Nicoline si riserva il diritto di apportare in ogni momento modifiche tecniche ed estetiche / Nicoline reserves the right</text>
<text x="446.5" y="1496" font-size="5.2" textLength="236" lengthAdjust="spacingAndGlyphs">to change, at any time and without prior warning, technical and aesthetic specifications of the articles.</text>
</g>
<rect x="447.2" y="1438.6" width="7.5" height="5.2" fill="#b8b8b8"/>
<rect x="447.2" y="1449.9" width="7.5" height="5.2" fill="#8e8e8e"/>
<rect x="535.3" y="1438.3" width="8.3" height="5.4" fill="#dadada"/>
<rect x="535.3" y="1449.3" width="8.3" height="5.4" fill="#fff" stroke="#333" stroke-width="0.5"/>
<use href="#ast" x="447" y="1459.7" width="7" height="7"/>
<rect x="625" y="1460.5" width="1.8" height="5" fill="#111"/>

<!-- FOOTER -->
<text x="9" y="1526" font-family="Liberation Sans,sans-serif" font-size="33" fill="#c8202f" textLength="74.6" lengthAdjust="spacingAndGlyphs">room</text>
<text x="9" y="1546.4" font-family="Liberation Sans,sans-serif" font-size="23" fill="#c8202f" textLength="74.6" lengthAdjust="spacingAndGlyphs">service</text>
<line x1="90" y1="1509" x2="90" y2="1546" stroke="#777" stroke-width="0.8"/>
<text x="95" y="1546.4" font-family="Liberation Sans,sans-serif" font-size="52" fill="#7a7a7a" textLength="85" lengthAdjust="spacingAndGlyphs">360</text>
<circle cx="184" cy="1509.5" r="1.6" fill="none" stroke="#7a7a7a" stroke-width="0.5"/>
<g font-family="Liberation Sans,sans-serif" font-size="8" fill="#777">
<text x="9" y="1561" textLength="176" lengthAdjust="spacing">furniture <tspan fill="#c8202f">·</tspan> design <tspan fill="#c8202f">·</tspan> accessories</text>
<text x="206.7" y="1561" textLength="98.7" lengthAdjust="spacingAndGlyphs">© room service 360, llc</text>
<text x="329" y="1561" fill="#666">⚲</text>
<text x="345.4" y="1561" textLength="180.4" lengthAdjust="spacingAndGlyphs">2031 byberry rd, philadelphia, pa 19116</text>
<text x="550" y="1561" fill="#666">✆</text>
<text x="563.8" y="1561" textLength="58.2" lengthAdjust="spacingAndGlyphs">215.676.6100</text>
<text x="648.5" y="1561" fill="#666">✉</text>
<text x="663.6" y="1561" textLength="120.4" lengthAdjust="spacingAndGlyphs">sales@roomservice360.com</text>
</g>
</svg>
</body></html>
